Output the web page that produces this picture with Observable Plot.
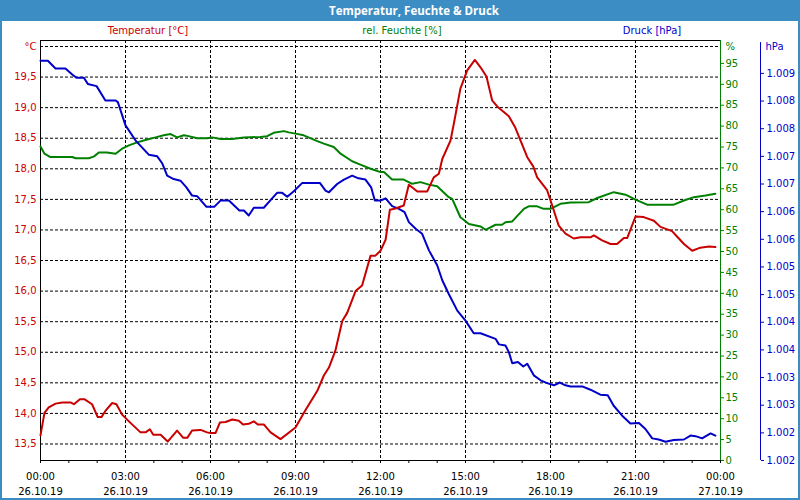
<!DOCTYPE html>
<html><head><meta charset="utf-8">
<script src="https://cdn.jsdelivr.net/npm/d3@7"></script>
<script src="https://cdn.jsdelivr.net/npm/@observablehq/plot@0.6"></script>
<style>
html,body{margin:0;padding:0;background:#fff;}
#wrap{position:relative;width:800px;height:500px;overflow:hidden;background:#fff;font-family:"DejaVu Sans",sans-serif;}
#title{position:absolute;left:0;top:0;width:800px;height:21px;background:#3c8dc4;color:#fff;font:bold 11.5px "Open Sans",sans-serif;line-height:21px;z-index:2;}
#title span{position:absolute;left:414px;transform:translateX(-50%);white-space:nowrap;}
.bord{position:absolute;background:#3c8dc4;z-index:2;}
.leg{position:absolute;top:24px;font-size:10px;line-height:13px;transform:translateX(-50%);white-space:nowrap;z-index:2;}
#chart{position:absolute;left:0;top:20px;}
</style></head>
<body>
<div id="wrap">
  <div id="title"><span>Temperatur, Feuchte &amp; Druck</span></div>
  <div class="leg" style="left:148px;color:#cc0000">Temperatur [°C]</div>
  <div class="leg" style="left:402px;color:#008000">rel. Feuchte [%]</div>
  <div class="leg" style="left:652px;color:#0000cc">Druck [hPa]</div>
  <div id="chart"></div>
  <div class="bord" style="left:0;top:0;width:2px;height:500px"></div>
  <div class="bord" style="left:798px;top:0;width:2px;height:500px"></div>
  <div class="bord" style="left:0;top:498px;width:800px;height:2px"></div>
</div>
<script>
// ---- data (hours since 26.10.19 00:00) ----
const tempHours = [0,0.14,0.29,0.53,0.77,1.06,1.18,1.39,1.56,1.82,2.02,2.15,2.29,2.53,2.68,2.88,3.12,3.53,3.71,3.86,3.98,4.24,4.49,4.82,5.04,5.18,5.35,5.65,5.88,6.00,6.18,6.33,6.53,6.77,7.00,7.15,7.35,7.53,7.67,7.88,8.12,8.47,9.00,9.35,9.77,10.00,10.18,10.41,10.65,10.82,11.12,11.35,11.65,11.82,12.00,12.18,12.33,12.53,12.82,13.00,13.30,13.65,13.88,14.06,14.18,14.47,14.59,14.82,15.06,15.33,15.53,15.74,15.94,16.12,16.53,16.76,17.18,17.39,17.53,17.88,18.06,18.29,18.53,18.82,19.06,19.41,19.53,19.82,20.12,20.35,20.59,20.71,21.00,21.29,21.65,21.88,22.29,22.53,22.71,23.00,23.29,23.59,23.82];
const tempValues = [13.64,14.01,14.10,14.16,14.18,14.18,14.15,14.23,14.23,14.15,13.94,13.94,14.04,14.17,14.15,13.98,13.87,13.69,13.69,13.74,13.65,13.65,13.54,13.72,13.60,13.60,13.72,13.73,13.69,13.68,13.68,13.85,13.86,13.90,13.88,13.82,13.83,13.87,13.82,13.82,13.69,13.58,13.77,14.05,14.37,14.62,14.75,15.03,15.51,15.64,16.00,16.09,16.58,16.58,16.66,16.84,17.33,17.35,17.40,17.74,17.63,17.63,17.86,17.92,18.16,18.46,18.74,19.31,19.61,19.78,19.66,19.51,19.12,19.02,18.86,18.67,18.19,18.04,17.86,17.65,17.40,17.07,16.94,16.86,16.88,16.88,16.91,16.83,16.77,16.77,16.87,16.87,17.22,17.21,17.15,17.05,16.98,16.86,16.77,16.66,16.71,16.73,16.72];

const humHours = [0,0.14,0.35,1.12,1.24,1.70,1.88,2.06,2.35,2.65,2.88,3.12,3.41,3.77,4.06,4.35,4.59,4.82,5.06,5.23,5.53,5.88,6.06,6.35,6.77,7.18,7.76,8.00,8.23,8.59,8.76,9.00,9.29,9.77,10.00,10.35,10.59,11.00,11.29,11.65,12.00,12.12,12.41,12.82,13.12,13.41,13.71,14.00,14.41,14.53,14.82,15.12,15.53,15.71,16.06,16.29,16.41,16.65,17.06,17.23,17.53,17.76,18.00,18.35,18.71,19.35,19.65,20.23,20.65,21.00,21.41,22.35,22.71,23.06,23.47,23.82];
const humValues = [75.1,73.4,72.6,72.6,72.3,72.3,72.7,73.7,73.7,73.4,74.6,75.4,76.1,76.8,77.3,77.8,78.1,77.3,77.8,77.6,77.1,77.1,77.3,76.9,76.9,77.3,77.4,77.6,78.4,78.8,78.5,78.2,77.8,76.4,75.8,75.0,73.4,71.6,70.8,69.8,69.0,69.0,67.2,67.2,66.2,66.6,66.0,65.6,63.0,62.6,58.2,56.6,56.0,55.2,56.4,56.4,57.0,57.2,60.2,60.8,60.8,60.2,60.2,61.4,61.7,61.8,62.8,64.2,63.6,62.4,61.2,61.2,62.2,63.0,63.4,63.8];

const presHours = [0,0.26,0.53,0.88,1.12,1.27,1.53,1.67,1.98,2.29,2.65,2.73,3.00,3.35,3.82,4.12,4.30,4.47,4.70,4.94,5.15,5.35,5.53,5.85,6.14,6.35,6.65,7.02,7.18,7.35,7.53,7.88,8.12,8.35,8.53,8.71,8.94,9.24,9.86,10.06,10.18,10.47,10.71,11.00,11.18,11.47,11.67,11.80,12.00,12.18,12.41,12.65,12.85,13.00,13.24,13.47,13.71,14.00,14.18,14.41,14.71,15.00,15.29,15.53,16.06,16.18,16.41,16.53,16.65,16.85,17.04,17.18,17.41,17.65,17.88,18.12,18.33,18.53,18.71,19.12,19.41,19.76,20.02,20.23,20.53,20.82,21.12,21.35,21.59,21.82,22.06,22.35,22.71,22.94,23.12,23.35,23.65,23.82];
const presValues = [1008.83,1008.83,1008.69,1008.69,1008.58,1008.52,1008.52,1008.41,1008.37,1008.11,1008.11,1008.08,1007.66,1007.39,1007.13,1007.10,1006.97,1006.75,1006.69,1006.66,1006.54,1006.39,1006.38,1006.19,1006.19,1006.30,1006.30,1006.12,1006.12,1006.03,1006.17,1006.17,1006.31,1006.44,1006.44,1006.37,1006.47,1006.62,1006.62,1006.48,1006.45,1006.60,1006.68,1006.75,1006.71,1006.68,1006.54,1006.30,1006.30,1006.34,1006.20,1006.15,1006.09,1005.91,1005.79,1005.70,1005.40,1005.13,1004.86,1004.61,1004.31,1004.13,1003.90,1003.90,1003.80,1003.70,1003.68,1003.56,1003.36,1003.38,1003.30,1003.35,1003.14,1003.05,1003.00,1002.96,1003.01,1002.96,1002.94,1002.94,1002.88,1002.79,1002.78,1002.59,1002.41,1002.27,1002.28,1002.17,1002.00,1001.98,1001.94,1001.97,1001.98,1002.05,1002.04,1002.00,1002.09,1002.05];

// ---- axis ticks ----
const tempTicks = [13.5,14,14.5,15,15.5,16,16.5,17,17.5,18,18.5,19,19.5,20];
const humTicks = [0,5,10,15,20,25,30,35,40,45,50,55,60,65,70,75,80,85,90,95];
const presTicks = [1001.6,1002.1,1002.6,1003.1,1003.6,1004.1,1004.6,1005.1,1005.6,1006.1,1006.6,1007.1,1007.6,1008.1,1008.6];
const timeLabelHours = [0,3,6,9,12,15,18,21,24];
const gridHours = [3,6,9,12,15,18,21];
const unitLabels = ["°C","%","hPa"];

// ---- scales (each series has its own value range mapped on a shared frame) ----
const tempDom = [13.23, 20.098], humDom = [0, 100.48], presDom = [1001.6, 1009.195];
const norm = dom => v => (v - dom[0]) / (dom[1] - dom[0]);
const denorm = dom => n => dom[0] + n * (dom[1] - dom[0]);
const nT = norm(tempDom), nH = norm(humDom), nP = norm(presDom);
const dT = denorm(tempDom), dH = denorm(humDom), dP = denorm(presDom);

const t0 = Date.UTC(2019, 9, 26);
const toDate = h => new Date(t0 + h * 3600000);
const tStart = toDate(0), tEnd = toDate(24);

const temp = tempHours.map((h, i) => ({t: toDate(h), y: nT(tempValues[i])}));
const hum = humHours.map((h, i) => ({t: toDate(h), y: nH(humValues[i])}));
const pres = presHours.map((h, i) => ({t: toDate(h), y: nP(presValues[i])}));

const RED = "#cc0000", GREEN = "#008000", BLUE = "#0000cc";
const pad = n => String(n).padStart(2, "0");
const fmtTime = d => pad(d.getUTCHours()) + ":" + pad(d.getUTCMinutes()) + "\n" +
  pad(d.getUTCDate()) + "." + pad(d.getUTCMonth() + 1) + "." + pad(d.getUTCFullYear() % 100);
const fmtP = n => { const s = String(Math.round(dP(n))); return s[0] + "." + s.slice(1); };

const hourTicks = d3.range(0, 25).map(toDate);

const chart = Plot.plot({
  width: 800, height: 480,
  marginLeft: 40, marginRight: 80, marginTop: 20, marginBottom: 40,
  style: {fontFamily: "DejaVu Sans, sans-serif", fontSize: "10px", background: "transparent"},
  x: {type: "utc", domain: [tStart, tEnd], label: null},
  y: {domain: [0, 1], label: null},
  marks: [
    Plot.ruleY(tempTicks.map(nT), {stroke: "#000", strokeDasharray: "3,2"}),
    Plot.ruleX(gridHours.map(toDate), {stroke: "#000", strokeDasharray: "3,2"}),
    Plot.ruleY([1], {stroke: "#000"}),
    Plot.ruleY([0], {stroke: "#000"}),
    Plot.ruleX([tStart], {stroke: "#000"}),
    Plot.ruleX([tEnd], {stroke: GREEN}),
    Plot.ruleX([tEnd], {y1: 0, y2: 0.995, dx: 40, stroke: BLUE}),
    Plot.line(hum, {x: "t", y: "y", stroke: "#008000", strokeWidth: 2}),
    Plot.line(pres, {x: "t", y: "y", stroke: "#0000c8", strokeWidth: 2}),
    Plot.line(temp, {x: "t", y: "y", stroke: "#c80000", strokeWidth: 2}),
    // left temperature axis
    Plot.axisY(tempTicks.slice(0, -1).map(nT), {anchor: "left", label: null, tickSize: 0, tickPadding: 4, fill: RED,
      tickFormat: n => dT(n).toFixed(1).replace(".", ",")}),
    // right humidity axis
    Plot.axisY(humTicks.map(nH), {anchor: "right", label: null, tickSize: 3, tickPadding: 2, stroke: GREEN, fill: GREEN,
      tickFormat: n => String(Math.round(dH(n)))}),
    // pressure axis
    Plot.axisY(presTicks.map(nP), {anchor: "right", label: null, dx: 40, tickSize: 3, tickPadding: 3, stroke: BLUE, fill: BLUE,
      tickFormat: fmtP}),
    // unit labels
    Plot.text([unitLabels[0]], {x: tStart, y: nT(20), dx: -4, textAnchor: "end", fill: RED}),
    Plot.text([unitLabels[1]], {x: tEnd, y: nT(20), dx: 5, textAnchor: "start", fill: GREEN}),
    Plot.text([unitLabels[2]], {x: tEnd, y: nT(20), dx: 45, textAnchor: "start", fill: BLUE}),
    // bottom time axis
    Plot.axisX(hourTicks, {label: null, tickSize: 3, tickFormat: () => "", stroke: "#000"}),
    Plot.axisX(timeLabelHours.map(toDate), {label: null, tickSize: 0, tickPadding: 9, lineHeight: 1.5, fill: "#000",
      tickFormat: fmtTime})
  ]
});
document.getElementById("chart").appendChild(chart);
</script>
</body></html>
